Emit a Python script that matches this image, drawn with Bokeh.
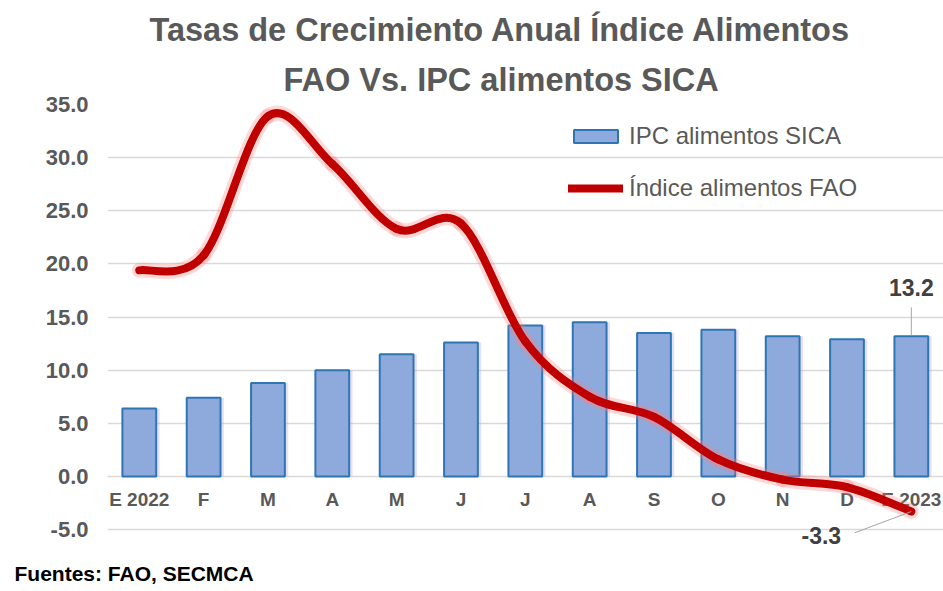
from bokeh.plotting import figure
from bokeh.models import (FixedTicker, NumeralTickFormatter, Title, Legend, LegendItem,
                          Label, ColumnDataSource)
from bokeh.core.properties import value
from bokeh.transform import dodge
from bokeh.embed import file_html
from bokeh.resources import INLINE

# ---- data ----
months = ["E 2022", "F", "M", "A", "M", "J", "J", "A", "S", "O", "N", "D", "E 2023"]
ipc_sica = [6.4, 7.4, 8.8, 10.0, 11.5, 12.6, 14.2, 14.5, 13.5, 13.8, 13.2, 12.9, 13.2]
fao_index = [19.4, 20.8, 33.9, 29.4, 23.3, 23.8, 12.7, 7.5, 5.6, 1.6, -0.3, -1.0, -3.3]
y_ticks = [-5, 0, 5, 10, 15, 20, 25, 30, 35]

title_1 = "Tasas de Crecimiento Anual Índice Alimentos"
title_2 = "FAO Vs. IPC alimentos SICA"
source_note = "Fuentes: FAO, SECMCA"
name_bars = "IPC alimentos SICA"
name_line = "Índice alimentos FAO"

FONT = "Liberation Sans"
GRAY = "#595959"

n = len(months)
xs = list(range(n))

bar_src = ColumnDataSource(dict(x=xs, v=ipc_sica, lab=months))

# smooth (Excel-like) curve as cubic Bezier segments computed from the data
seg = dict(x0=[], y0=[], x1=[], y1=[], cx0=[], cy0=[], cx1=[], cy1=[])
for i in range(n - 1):
    a, b = max(i - 1, 0), min(i + 2, n - 1)
    seg["x0"].append(xs[i]); seg["y0"].append(fao_index[i])
    seg["x1"].append(xs[i + 1]); seg["y1"].append(fao_index[i + 1])
    seg["cx0"].append(xs[i] + (xs[i + 1] - xs[a]) / 6)
    seg["cy0"].append(fao_index[i] + (fao_index[i + 1] - fao_index[a]) / 6)
    seg["cx1"].append(xs[i + 1] - (xs[b] - xs[i]) / 6)
    seg["cy1"].append(fao_index[i + 1] - (fao_index[b] - fao_index[i]) / 6)
curve_src = ColumnDataSource(seg)

p = figure(width=943, height=590, output_backend="svg", toolbar_location=None,
           x_range=(-0.494, 12.5), y_range=(-7.25, y_ticks[-1]),
           min_border_left=107, min_border_right=0, min_border_top=104, min_border_bottom=35)
p.outline_line_color = None
p.background_fill_color = "white"
p.border_fill_color = "white"

# titles
p.add_layout(Title(text=title_2, align="left", offset=176, standoff=14,
                   text_font=FONT, text_font_size="32.5px", text_font_style="bold",
                   text_color=GRAY), "above")
p.add_layout(Title(text=title_1, align="left", offset=42, standoff=9,
                   text_font=FONT, text_font_size="32.5px", text_font_style="bold",
                   text_color=GRAY), "above")
p.add_layout(Title(text=source_note, align="left", offset=-93, standoff=12,
                   text_font=FONT, text_font_size="21px", text_font_style="bold",
                   text_color="#000000"), "below")

# axes
p.xaxis.visible = False
p.xgrid.visible = False
p.yaxis.ticker = FixedTicker(ticks=y_ticks)
p.yaxis.formatter = NumeralTickFormatter(format="0.0")
p.yaxis.axis_line_color = None
p.yaxis.major_tick_line_color = None
p.yaxis.minor_tick_line_color = None
p.yaxis.major_label_standoff = 13
p.yaxis.major_label_text_font = FONT
p.yaxis.major_label_text_font_size = "22px"
p.yaxis.major_label_text_font_style = "bold"
p.yaxis.major_label_text_color = GRAY
p.ygrid.ticker = FixedTicker(ticks=y_ticks)
p.ygrid.grid_line_color = "#D9D9D9"
p.ygrid.grid_line_width = 1.5

# bars (soft shadow + bar)
p.vbar(x=dodge("x", 0.05, range=p.x_range), top="v", width=0.53, source=bar_src,
       fill_color="#B8A6DC", fill_alpha=0.35, line_color=None)
bars = p.vbar(x="x", top="v", width=0.525, source=bar_src,
              fill_color="#8EA9DB", line_color="#2E75B6", line_width=2)

# category labels along the zero line
p.text(x="x", y=0, text="lab", source=bar_src, y_offset=23,
       text_align="center", text_baseline="middle",
       text_font=value(FONT), text_font_size="19px", text_font_style="bold",
       text_color=GRAY)

# FAO curve with glow
p.bezier(x0="x0", y0="y0", x1="x1", y1="y1", cx0="cx0", cy0="cy0", cx1="cx1", cy1="cy1",
         source=curve_src, line_color="#FF7F7F", line_alpha=0.3, line_width=15,
         line_cap="round")
curve = p.bezier(x0="x0", y0="y0", x1="x1", y1="y1", cx0="cx0", cy0="cy0", cx1="cx1",
                 cy1="cy1", source=curve_src, line_color="#C00000", line_width=8,
                 line_cap="round", line_join="round")

# data labels with leader lines
last = n - 1
p.segment(x0=[xs[last]], y0=[ipc_sica[last] + 0.1], x1=[xs[last]], y1=[ipc_sica[last] + 2.7],
          line_color="#A6A6A6", line_width=1)
p.segment(x0=[xs[last]], y0=[fao_index[last]], x1=[xs[last] - 0.88], y1=[fao_index[last] - 2.0],
          line_color="#A6A6A6", line_width=1)
p.add_layout(Label(x=xs[last], y=ipc_sica[last], text=f"{ipc_sica[last]:.1f}",
                   x_offset=0, y_offset=49, text_align="center", text_baseline="middle",
                   text_font=FONT, text_font_size="23px", text_font_style="bold",
                   text_color="#404040"))
p.add_layout(Label(x=xs[last], y=fao_index[last], text=f"{fao_index[last]:.1f}",
                   x_offset=-90, y_offset=-24, text_align="center", text_baseline="middle",
                   text_font=FONT, text_font_size="23px", text_font_style="bold",
                   text_color="#404040"))

# legend
legend = Legend(items=[LegendItem(label=name_bars, renderers=[bars]),
                       LegendItem(label=name_line, renderers=[curve])],
                location=(461, 351), padding=0, spacing=24, glyph_width=55, glyph_height=16,
                label_standoff=6, label_text_font=FONT, label_text_font_size="24px",
                label_text_color=GRAY, background_fill_alpha=0, border_line_color=None)
p.add_layout(legend)

open("out.html", "w").write(file_html(p, INLINE))
